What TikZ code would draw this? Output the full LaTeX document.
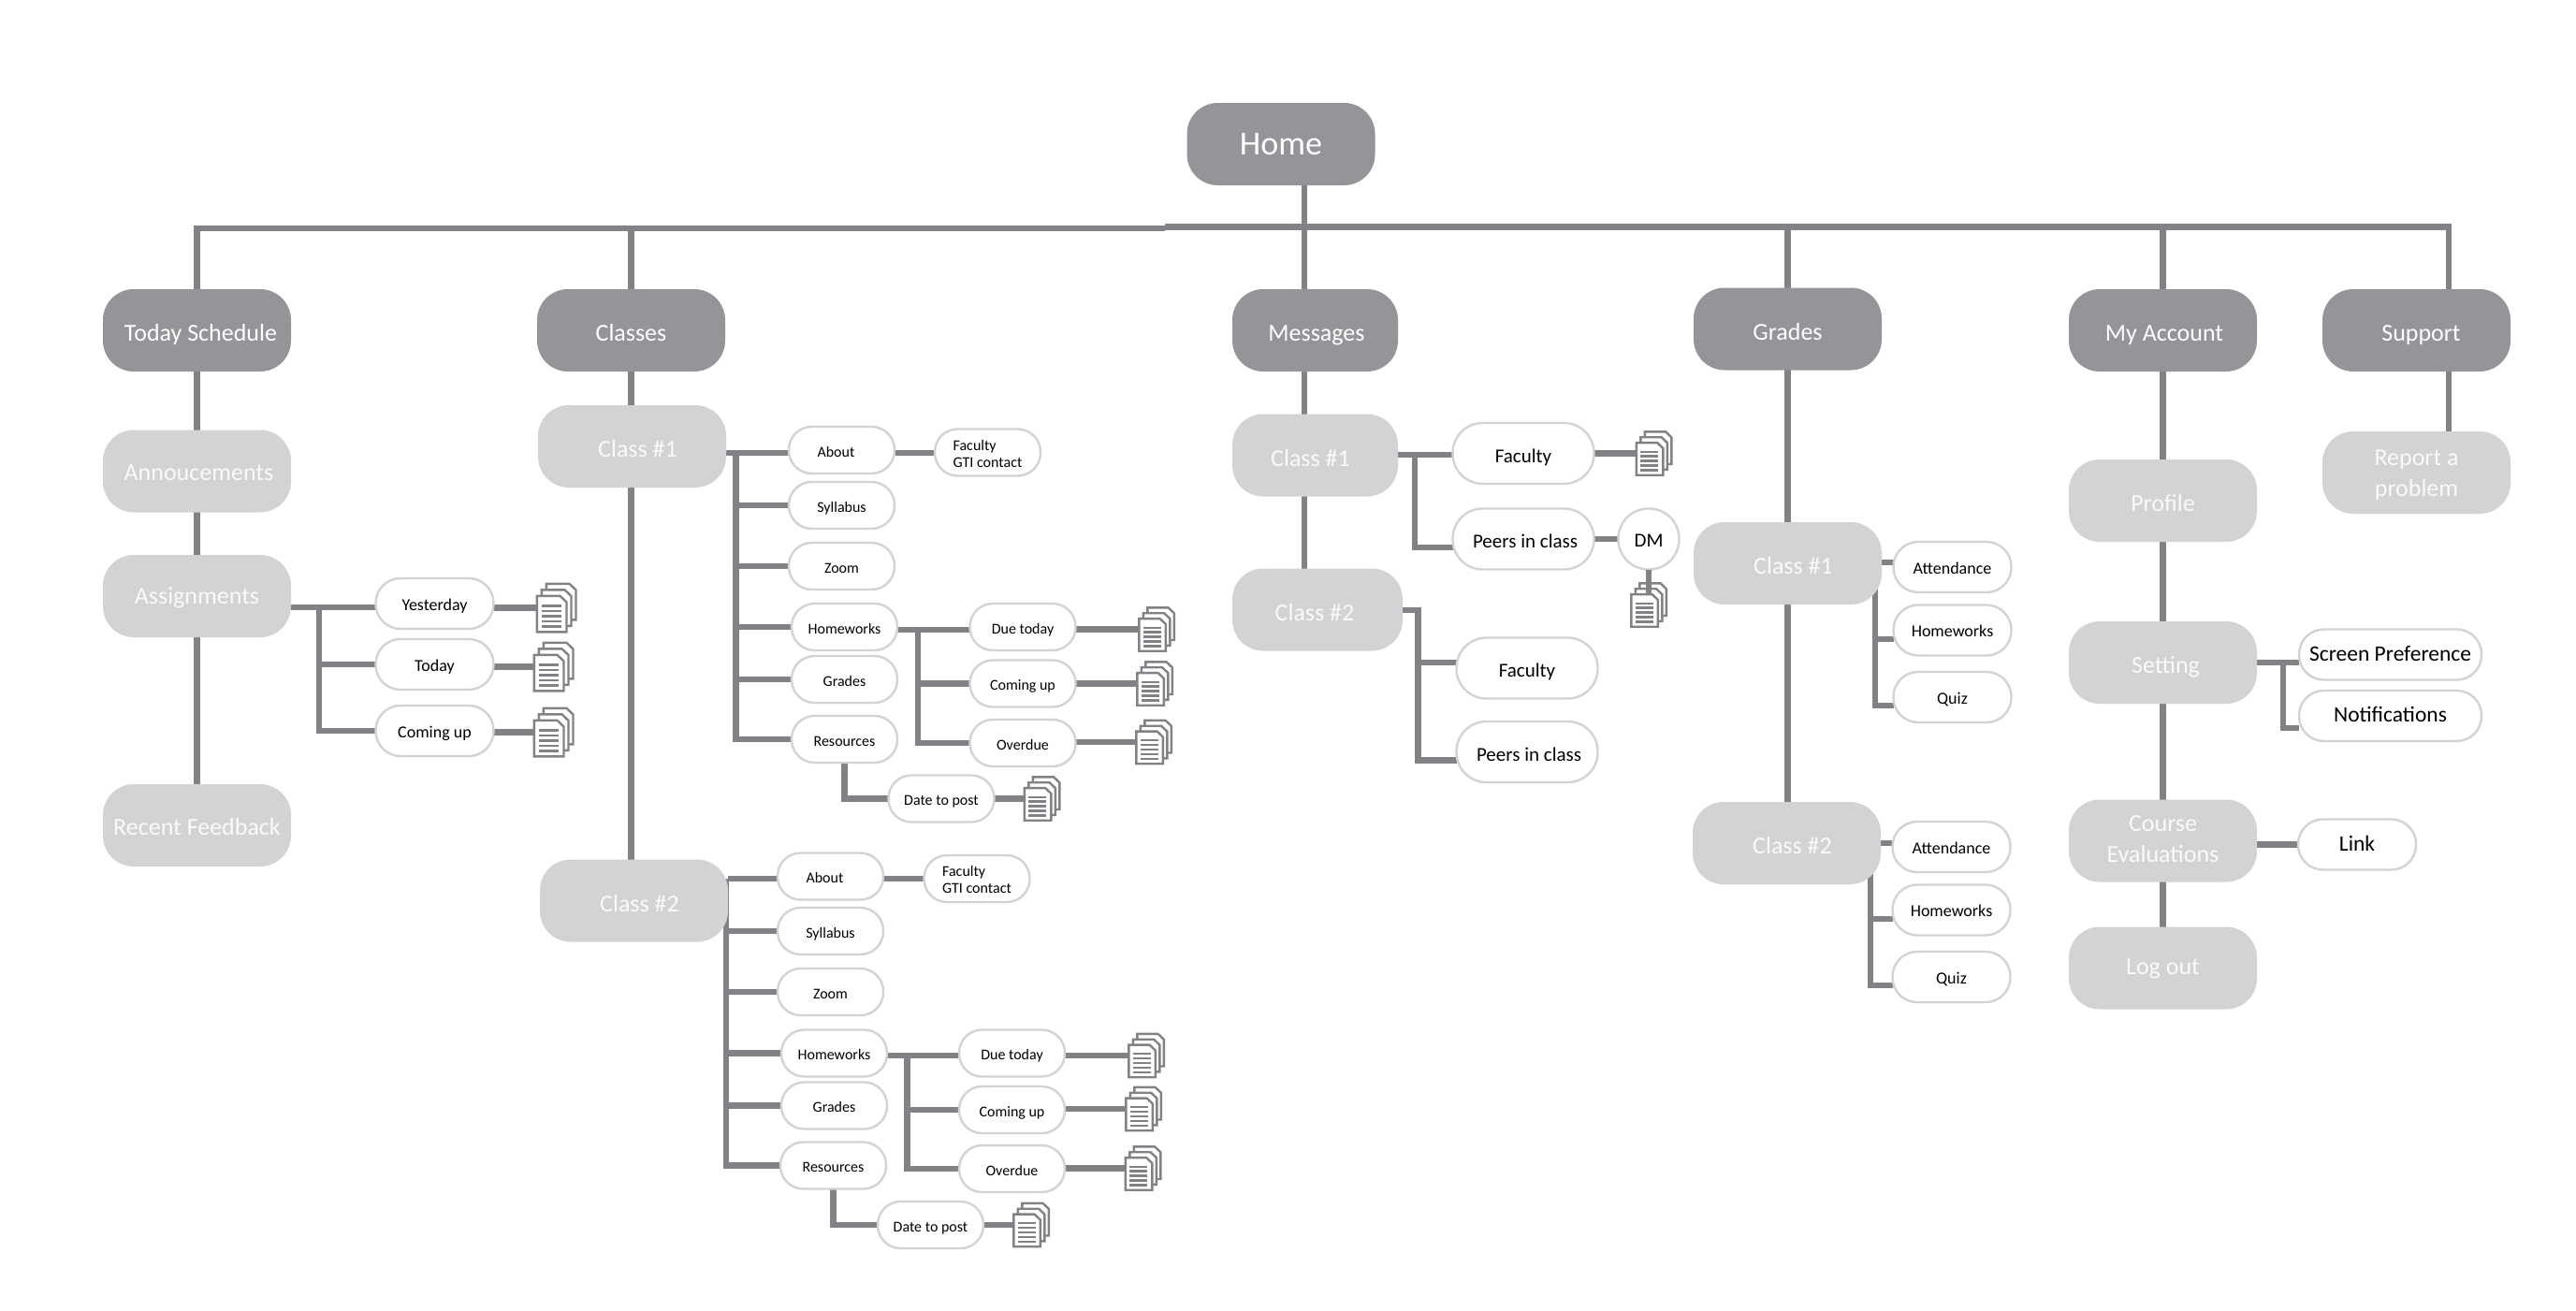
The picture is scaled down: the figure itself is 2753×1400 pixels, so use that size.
\documentclass[tikz,border=0pt]{standalone}
\usepackage{fontspec}
\setmainfont{Carlito}
\usetikzlibrary{positioning,backgrounds}
\definecolor{topfill}{HTML}{939598}
\definecolor{subfill}{HTML}{D1D3D4}
\definecolor{connline}{HTML}{808285}
\definecolor{subtext}{HTML}{F9FAFA}

\newcommand{\fsize}[1]{\fontsize{#1}{#1}\selectfont}

\begin{document}
\begin{tikzpicture}[
  x=1pt, y=-1pt,
  on grid,
  box/.style={fill=subfill, text=subtext, align=center, inner sep=0pt, outer sep=0pt,
    minimum width=201pt, minimum height=88pt, rounded corners=33pt,
    text height=23pt, text depth=0pt, font=\fontsize{26}{33}\selectfont},
  topbox/.style={box, fill=topfill, text=white},
  pill/.style={draw=subfill, fill=white, text=black, line width=2.4pt, align=center,
    inner sep=0pt, outer sep=0pt, text height=14pt, text depth=0pt},
  pilla/.style={pill, minimum width=113pt, minimum height=50pt, rounded corners=24.5pt,
    font=\fontsize{16}{18}\selectfont},
  pillb/.style={pill, minimum width=126pt, minimum height=54pt, rounded corners=26.5pt,
    font=\fsize{18}},
  pillc/.style={pill, minimum width=151pt, minimum height=65pt, rounded corners=32pt,
    text height=19pt, font=\fsize{21}},
  pilld/.style={pill, minimum height=54pt, rounded corners=26.5pt, text height=13pt,
    font=\fsize{23.5}},
  conn/.style={draw=connline, line width=6.4pt},
  docs/.style={minimum width=44pt*#1, minimum height=54pt*#1, inner sep=0pt, outer sep=0pt},
  docs/.default=0.9
]
\useasboundingbox (0,0) rectangle (2753,1400);

\node[topbox, font=\fsize{36}, text height=22pt] (home) at (1369,154) {Home};

% Today Schedule column
\node[topbox] (tsch) at (210.5,353) {\kern8pt Today Schedule};
\node[box, below=150.5pt of tsch, text height=20pt] (annc) {\kern4pt Annoucements};
\node[box, below=133.5pt of annc, text height=16pt] (asgn) {Assignments};
\node[box, below=245pt of asgn, text height=20pt] (rfbk) {Recent Feedback};
\node[pillb, right=254pt of asgn, yshift=-8pt] (yest) {Yesterday};
\node[pillb, below=65pt of yest] (tday) {Today};
\node[pillb, below=71pt of tday] (cmup) {Coming up};
\node[docs=1, right=130pt of yest, yshift=-4.5pt] (dyest) {};
\node[docs=1, right=127pt of tday, yshift=-2.5pt] (dtday) {};
\node[docs=1, right=127pt of cmup, yshift=-1.5pt] (dcmup) {};

% Classes column
\node[topbox] (clss) at (674.5,353) {Classes};
\node[box, below=124pt of clss, xshift=1pt] (ca) {\kern12pt Class \#1};
\node[box, below=485.5pt of ca, xshift=2pt] (cb) {\kern12pt Class \#2};

\node[pilla, right=224pt of ca, yshift=-4pt] (abta) {\kern-12pt About};
\node[pilla, right=156pt of abta, yshift=-2.5pt, align=left, text height=31pt] (faca) {Faculty\\GTI contact};
\node[pilla, below=59pt of abta] (syla) {Syllabus};
\node[pilla, below=65pt of syla] (zooa) {Zoom};
\node[pilla, below=65pt of zooa, xshift=3pt] (hwka) {Homeworks};
\node[pilla, below=56pt of hwka] (grda) {Grades};
\node[pilla, below=64pt of grda] (resa) {Resources};
\node[pilla, right=190.5pt of hwka] (duea) {Due today};
\node[pilla, below=60.5pt of duea] (cmga) {Coming up};
\node[pilla, below=63.5pt of cmga] (ovra) {Overdue};
\node[pilla, below=63.5pt of resa, xshift=103.5pt] (psta) {Date to post};
\node[docs, right=143pt of duea, yshift=-2.5pt] (dduea) {};
\node[docs, right=141pt of cmga] (dcmga) {};
\node[docs, right=140pt of ovra, yshift=1pt] (dovra) {};
\node[docs, right=107.5pt of psta] (dpsta) {};

\node[pilla, right=210pt of cb, yshift=26pt] (abtb) {\kern-12pt About};
\node[pilla, right=156.5pt of abtb, yshift=-2.5pt, align=left, text height=31pt] (facb) {Faculty\\GTI contact};
\node[pilla, below=58.5pt of abtb] (sylb) {Syllabus};
\node[pilla, below=65pt of sylb] (zoob) {Zoom};
\node[pilla, below=65.5pt of zoob, xshift=4pt] (hwkb) {Homeworks};
\node[pilla, below=56pt of hwkb] (grdb) {Grades};
\node[pilla, below=64pt of grdb, xshift=-1pt] (resb) {Resources};
\node[pilla, right=190pt of hwkb] (dueb) {Due today};
\node[pilla, below=60.5pt of dueb] (cmgb) {Coming up};
\node[pilla, below=63pt of cmgb] (ovrb) {Overdue};
\node[pilla, below=63.5pt of resb, xshift=104pt] (pstb) {Date to post};
\node[docs, right=143.5pt of dueb, yshift=-2.5pt] (ddueb) {};
\node[docs, right=140.5pt of cmgb, yshift=1pt] (dcmgb) {};
\node[docs, right=140pt of ovrb, yshift=0.5pt] (dovrb) {};
\node[docs, right=107.5pt of pstb] (dpstb) {};

% Messages column
\node[topbox, minimum width=177pt] (msgs) at (1405.5,353) {\kern3pt Messages};
\node[box, minimum width=177pt, below=133.5pt of msgs] (ma) {\kern-10pt Class \#1};
\node[box, minimum width=182pt, below=165pt of ma, xshift=2.5pt] (mb) {\kern-6pt Class \#2};
\node[pillc, right=222.5pt of ma, yshift=2pt] (mfca) {Faculty};
\node[pillc, below=91.5pt of mfca] (mpra) {\kern4pt Peers in class};
\node[pillc, minimum width=65pt, right=134pt of mpra, text height=16pt] (dm) {DM};
\node[docs, right=139.5pt of mfca] (dmfca) {};
\node[docs, below=70.5pt of dm] (ddm) {};
\node[pillc, right=224pt of mb, yshift=-62.5pt] (mfcb) {Faculty};
\node[pillc, below=89.5pt of mfcb] (mprb) {\kern4pt Peers in class};

% Grades column
\node[topbox] (grds) at (1910.5,351.5) {Grades};
\node[box, below=250.5pt of grds] (ga) {\kern12pt Class \#1};
\node[box, below=299pt of ga, xshift=-1pt] (gb) {\kern12pt Class \#2};
\node[pillb, right=176pt of ga, yshift=-4pt] (atna) {Attendance};
\node[pillb, below=67.5pt of atna] (gwka) {Homeworks};
\node[pillb, below=71.5pt of gwka] (quza) {Quiz};
\node[pillb, right=176pt of gb, yshift=-4pt] (atnb) {Attendance};
\node[pillb, below=67.5pt of atnb] (gwkb) {Homeworks};
\node[pillb, below=71.5pt of gwkb] (quzb) {Quiz};

% My Account and Support columns
\node[topbox] (acct) at (2311.5,353) {\kern3pt My Account};
\node[box, below=182pt of acct] (prof) {Profile};
\node[box, below=173pt of prof] (setg) {\kern6pt Setting};
\node[box, below=190.5pt of setg, text height=45pt] (ceva) {Course\\Evaluations};
\node[box, below=136pt of ceva, text height=14pt] (lout) {Log out};
\node[pilld, minimum width=195pt, right=243pt of setg, yshift=8.5pt] (scrn) {Screen Preference};
\node[pilld, minimum width=195pt, below=65.5pt of scrn] (noti) {Notifications};
\node[pilld, minimum width=126pt, right=207.5pt of ceva, yshift=-4pt] (link) {Link};
\node[topbox] (supp) at (2582.5,353) {\kern10pt Support};
\node[box, below=152pt of supp, text height=51pt] (rprt) {Report a\\problem};

\coordinate (busa) at (1245,244);
\coordinate (busb) at (1245,242.5);
\coordinate (bmsg) at (1394,242.5);
\coordinate (bsup) at (2617,242.5);
\coordinate (jasg) at (341,649);
\coordinate (jca) at (786.5,484);
\coordinate (jha) at (981,673);
\coordinate (jcb) at (776,939);
\coordinate (jhb) at (969.5,1128);
\coordinate (jma) at (1512,486);
\coordinate (jmb) at (1515.5,652);
\coordinate (jga) at (2004,601);
\coordinate (jgb) at (1999,901);
\coordinate (jst) at (2440,708);

\begin{scope}[on background layer]
\draw[conn] (rfbk.north) |- (busa);
\draw[conn] (bsup|-rprt.north) |- (busb);
\draw[conn] (bmsg|-home.south) -- (bmsg|-mb.north);
\draw[conn] (clss.north|-busa) -- (clss.north|-cb.north);
\draw[conn] (grds.north|-busb) -- (grds.north|-gb.north);
\draw[conn] (acct.north|-busb) -- (lout.north);
% branches of the Today Schedule column
\draw[conn] (asgn.east|-jasg) -- (yest.west|-jasg);
\draw[conn] (jasg) |- (tday.west);
\draw[conn] (jasg) |- (cmup.west);
\draw[conn] (yest.east|-dyest) -- (dyest.west);
\draw[conn] (tday.east|-dtday) -- (dtday.west);
\draw[conn] (cmup.east|-dcmup) -- (dcmup.west);
% branches of Class #1
\draw[conn] (ca.east|-jca) -- (abta.west|-jca);
\draw[conn] (abta.east|-jca) -- (faca.west|-jca);
\draw[conn] (jca) |- (syla.west);
\draw[conn] (jca) |- (zooa.west);
\draw[conn] (jca) |- (hwka.west);
\draw[conn] (jca) |- (grda.west);
\draw[conn] (jca) |- (resa.west);
\draw[conn] (hwka.east|-jha) -- (duea.west|-jha);
\draw[conn] (jha) |- (cmga.west);
\draw[conn] (jha) |- (ovra.west);
\draw[conn] (duea.east|-dduea) -- (dduea.west);
\draw[conn] (cmga.east|-dcmga) -- (dcmga.west);
\draw[conn] (ovra.east|-dovra) -- (dovra.west);
\draw[conn] (resa.south) |- (psta.west);
\draw[conn] (psta.east) -- (dpsta.west);
% branches of Class #2
\draw[conn] (cb.east|-jcb) -- (abtb.west|-jcb);
\draw[conn] (abtb.east|-jcb) -- (facb.west|-jcb);
\draw[conn] (jcb) |- (sylb.west);
\draw[conn] (jcb) |- (zoob.west);
\draw[conn] (jcb) |- (hwkb.west);
\draw[conn] (jcb) |- (grdb.west);
\draw[conn] (jcb) |- (resb.west);
\draw[conn] (hwkb.east|-jhb) -- (dueb.west|-jhb);
\draw[conn] (jhb) |- (cmgb.west);
\draw[conn] (jhb) |- (ovrb.west);
\draw[conn] (dueb.east|-ddueb) -- (ddueb.west);
\draw[conn] (cmgb.east|-dcmgb) -- (dcmgb.west);
\draw[conn] (ovrb.east|-dovrb) -- (dovrb.west);
\draw[conn] (resb.south) |- (pstb.west);
\draw[conn] (pstb.east) -- (dpstb.west);
% branches of the Messages column
\draw[conn] (ma.east|-jma) -- (mfca.west|-jma);
\draw[conn] (jma) |- ([yshift=-9pt]mpra.west);
\draw[conn] (mfca.east|-dmfca) -- (dmfca.west);
\draw[conn] (mpra.east) -- (dm.west);
\draw[conn] (mb.east|-jmb) -- (jmb) |- ([yshift=-9pt]mprb.west);
\draw[conn] (jmb) |- ([yshift=6pt]mfcb.west);
% branches of the Grades column
\draw[conn] (ga.east|-jga) -- (atna.west|-jga);
\draw[conn] (jga) |- ([yshift=-9.5pt]gwka.west);
\draw[conn] (jga) |- ([yshift=-9pt]quza.west);
\draw[conn] (gb.east|-jgb) -- (atnb.west|-jgb);
\draw[conn] (jgb) |- ([yshift=-9.5pt]gwkb.west);
\draw[conn] (jgb) |- ([yshift=-9pt]quzb.west);
% branches of the My Account column
\draw[conn] (setg.east|-jst) -- (scrn.west|-jst);
\draw[conn] (jst) |- ([yshift=-13pt]noti.west);
\draw[conn] (ceva.east|-link) -- (link.west);
\end{scope}

% the stacks of sheets, three to a stack
\foreach \d/\s in {dyest/1,dtday/1,dcmup/1,dduea/0.9,dcmga/0.9,dovra/0.9,dpsta/0.9,
    ddueb/0.9,dcmgb/0.9,dovrb/0.9,dpstb/0.9,dmfca/0.9,ddm/0.9} {
  \begin{scope}[shift={(\d.north west)}, scale=\s, draw=connline, fill=white, line width=2.4pt]
    \foreach \o/\p in {10/0, 5/6.5, 0/13}
      \filldraw (\o+1.3,\p+1.3) -- (\o+26,\p+1.3) -- (\o+33,\p+8) -- (\o+33,\p+39.8)
        -- (\o+1.3,\p+39.8) -- cycle;
    \foreach \l in {25,30.5,36,41.5,47}
      \draw (6,\l) -- (27,\l);
  \end{scope}
}
\draw[conn, line width=5.4pt] (dm.south) -- ([yshift=13pt]ddm.center);
\end{tikzpicture}
\end{document}
